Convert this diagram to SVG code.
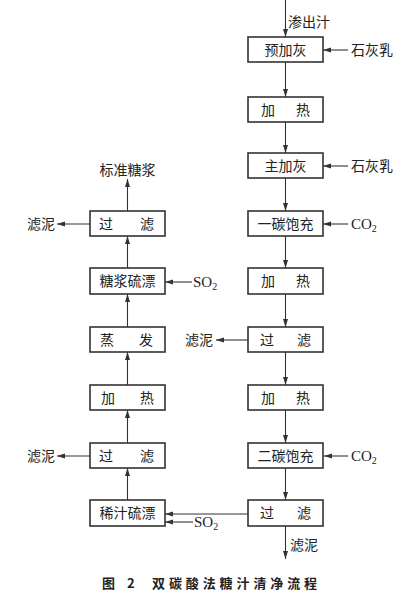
<svg xmlns="http://www.w3.org/2000/svg" width="417" height="600" viewBox="0 0 417 600">
<defs>
<marker id="ah" markerUnits="userSpaceOnUse" markerWidth="9" markerHeight="6" refX="8" refY="2.5" orient="auto">
<path d="M0,0 L8,2.5 L0,5 z" fill="#333"/>
</marker>
<style>
.box rect{fill:#fff;stroke:#333;stroke-width:1.6}
.box text,.lbl{font-family:"Noto Sans CJK SC","Liberation Serif",serif;font-size:14px;fill:#222}
.box text{text-anchor:middle}
.chem{font-family:"Liberation Serif",serif;font-size:15px;fill:#222}
.sub{font-size:10px}
#connectors line{stroke:#333;stroke-width:1.1;marker-end:url(#ah)}
.cap{font-family:"Noto Sans CJK SC",sans-serif;font-size:13px;font-weight:bold;fill:#222}
</style>
</defs>
<rect width="417" height="600" fill="#fff"/>
<g id="connectors">
<line x1="285.5" y1="0" x2="285.5" y2="37"/>
<line x1="348" y1="50" x2="323" y2="50"/>
<line x1="285.5" y1="62" x2="285.5" y2="97"/>
<line x1="285.5" y1="122" x2="285.5" y2="153"/>
<line x1="348" y1="166" x2="323" y2="166"/>
<line x1="285.5" y1="178" x2="285.5" y2="211"/>
<line x1="348" y1="224" x2="323" y2="224"/>
<line x1="285.5" y1="236" x2="285.5" y2="268"/>
<line x1="285.5" y1="294" x2="285.5" y2="327"/>
<line x1="248" y1="340" x2="216" y2="340"/>
<line x1="285.5" y1="352" x2="285.5" y2="385"/>
<line x1="285.5" y1="410" x2="285.5" y2="443"/>
<line x1="348" y1="456" x2="324" y2="456"/>
<line x1="285.5" y1="468" x2="285.5" y2="500"/>
<line x1="285.5" y1="526" x2="285.5" y2="559"/>
<line x1="248" y1="514" x2="165" y2="514"/>
<line x1="193" y1="522" x2="165" y2="522"/>
<line x1="127.5" y1="500" x2="127.5" y2="468"/>
<line x1="90" y1="456" x2="57" y2="456"/>
<line x1="127.5" y1="443" x2="127.5" y2="410"/>
<line x1="127.5" y1="385" x2="127.5" y2="352"/>
<line x1="127.5" y1="327" x2="127.5" y2="294"/>
<line x1="192" y1="282" x2="165" y2="282"/>
<line x1="127.5" y1="268" x2="127.5" y2="236"/>
<line x1="90" y1="224" x2="57" y2="224"/>
<line x1="127.5" y1="211" x2="127.5" y2="179"/>
</g>
<g id="labels">
<text class="lbl" x="288" y="27">渗出汁</text>
<text class="lbl" x="351" y="55">石灰乳</text>
<text class="lbl" x="351" y="171">石灰乳</text>
<text class="chem" x="351" y="229">CO<tspan class="sub" dy="3">2</tspan></text>
<text class="chem" x="351" y="461">CO<tspan class="sub" dy="3">2</tspan></text>
<text class="lbl" x="213" y="345" text-anchor="end">滤泥</text>
<text class="lbl" x="290" y="550">滤泥</text>
<text class="chem" x="194" y="527">SO<tspan class="sub" dy="3">2</tspan></text>
<text class="chem" x="193" y="287">SO<tspan class="sub" dy="3">2</tspan></text>
<text class="lbl" x="55" y="461" text-anchor="end">滤泥</text>
<text class="lbl" x="55" y="229" text-anchor="end">滤泥</text>
<text class="lbl" x="127.5" y="175" text-anchor="middle">标准糖浆</text>
</g>
<g id="r1" class="box"><rect x="248" y="37" width="75" height="25"/><text x="285.5" y="54.5">预加灰</text></g>
<g id="r2" class="box"><rect x="248" y="97" width="75" height="25"/><text y="114.5"><tspan x="268">加</tspan><tspan x="303">热</tspan></text></g>
<g id="r3" class="box"><rect x="248" y="153" width="75" height="25"/><text x="285.5" y="170.5">主加灰</text></g>
<g id="r4" class="box"><rect x="248" y="211" width="75" height="25"/><text x="285.5" y="228.5">一碳饱充</text></g>
<g id="r5" class="box"><rect x="248" y="268" width="75" height="26"/><text y="286"><tspan x="268">加</tspan><tspan x="303">热</tspan></text></g>
<g id="r6" class="box"><rect x="248" y="327" width="75" height="25"/><text y="344.5"><tspan x="267">过</tspan><tspan x="304">滤</tspan></text></g>
<g id="r7" class="box"><rect x="248" y="385" width="75" height="25"/><text y="402.5"><tspan x="268">加</tspan><tspan x="303">热</tspan></text></g>
<g id="r8" class="box"><rect x="248" y="443" width="75" height="25"/><text x="285.5" y="460.5">二碳饱充</text></g>
<g id="r9" class="box"><rect x="248" y="500" width="75" height="26"/><text y="518"><tspan x="267">过</tspan><tspan x="304">滤</tspan></text></g>
<g id="l1" class="box"><rect x="90" y="211" width="75" height="25"/><text y="228.5"><tspan x="106">过</tspan><tspan x="147">滤</tspan></text></g>
<g id="l2" class="box"><rect x="90" y="268" width="75" height="26"/><text x="127.5" y="286">糖浆硫漂</text></g>
<g id="l3" class="box"><rect x="90" y="327" width="75" height="25"/><text y="344.5"><tspan x="107">蒸</tspan><tspan x="146">发</tspan></text></g>
<g id="l4" class="box"><rect x="90" y="385" width="75" height="25"/><text y="402.5"><tspan x="108">加</tspan><tspan x="147">热</tspan></text></g>
<g id="l5" class="box"><rect x="90" y="443" width="75" height="25"/><text y="460.5"><tspan x="106">过</tspan><tspan x="147">滤</tspan></text></g>
<g id="l6" class="box"><rect x="90" y="500" width="75" height="26"/><text x="127.5" y="518">稀汁硫漂</text></g>
<g id="caption">
<text class="cap" x="102" y="588">图</text>
<text class="cap" x="127" y="588" font-family="Liberation Sans">2</text>
<text class="cap" x="152" y="588" letter-spacing="3.9">双碳酸法糖汁清净流程</text>
</g>
</svg>
